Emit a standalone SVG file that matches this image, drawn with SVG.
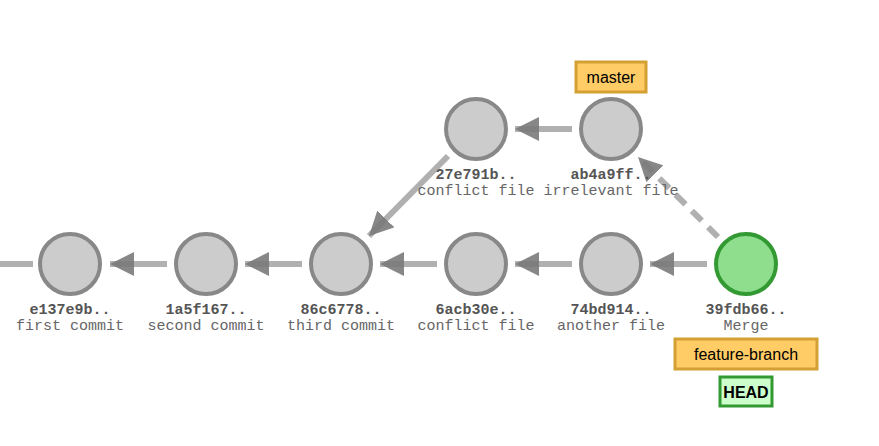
<svg xmlns="http://www.w3.org/2000/svg" width="879" height="446" viewBox="0 0 879 446">
<style>
.commit{fill:#cccccc;stroke:#888888;stroke-width:4}
.merge{fill:#8ede8e;stroke:#339933;stroke-width:4}
.link{stroke:#b0b0b0;stroke-width:6;fill:none}
.dash{stroke-dasharray:14,9}
.hash{font-family:"Liberation Mono","Courier New",monospace;font-size:15px;font-weight:bold;fill:#555555;text-anchor:middle}
.msg{font-family:"Liberation Mono","Courier New",monospace;font-size:15px;fill:#666666;text-anchor:middle}
.branch{fill:#ffcc66;stroke:#d4a033;stroke-width:3}
.head{fill:#ccffcc;stroke:#339933;stroke-width:3}
.lbl{font-family:"Liberation Sans",Arial,sans-serif;font-size:16px;fill:#000000;text-anchor:middle}
</style>
<defs>
<marker id="arrow" markerWidth="4" markerHeight="4" refX="4" refY="2" orient="auto" markerUnits="strokeWidth" viewBox="0 0 4 4">
<path d="M0,0 L4,2 L0,4 Z" fill="#7a7a7a" fill-opacity="0.9"/>
</marker>
</defs>
<g id="connectors">
<line class="link" x1="0" y1="264" x2="33" y2="264"/>
<line class="link" x1="167" y1="264" x2="110" y2="264" marker-end="url(#arrow)"/>
<line class="link" x1="302" y1="264" x2="245" y2="264" marker-end="url(#arrow)"/>
<line class="link" x1="437" y1="264" x2="380" y2="264" marker-end="url(#arrow)"/>
<line class="link" x1="572" y1="264" x2="515" y2="264" marker-end="url(#arrow)"/>
<line class="link" x1="707" y1="264" x2="650" y2="264" marker-end="url(#arrow)"/>
<line class="link" x1="572" y1="129" x2="515" y2="129" marker-end="url(#arrow)"/>
<line class="link" x1="448" y1="156" x2="369" y2="236" marker-end="url(#arrow)"/>
<line class="link dash" x1="718" y1="237" x2="638" y2="157" marker-end="url(#arrow)"/>
</g>
<g id="c-e137e9b">
<circle class="commit" cx="70" cy="264" r="30"/>
<text class="hash" x="70" y="314">e137e9b..</text>
<text class="msg" x="70" y="330">first commit</text>
</g>
<g id="c-1a5f167">
<circle class="commit" cx="206" cy="264" r="30"/>
<text class="hash" x="206" y="314">1a5f167..</text>
<text class="msg" x="206" y="330">second commit</text>
</g>
<g id="c-86c6778">
<circle class="commit" cx="341" cy="264" r="30"/>
<text class="hash" x="341" y="314">86c6778..</text>
<text class="msg" x="341" y="330">third commit</text>
</g>
<g id="c-6acb30e">
<circle class="commit" cx="476" cy="264" r="30"/>
<text class="hash" x="476" y="314">6acb30e..</text>
<text class="msg" x="476" y="330">conflict file</text>
</g>
<g id="c-74bd914">
<circle class="commit" cx="611" cy="264" r="30"/>
<text class="hash" x="611" y="314">74bd914..</text>
<text class="msg" x="611" y="330">another file</text>
</g>
<g id="c-39fdb66">
<circle class="merge" cx="746" cy="264" r="30"/>
<text class="hash" x="746" y="314">39fdb66..</text>
<text class="msg" x="746" y="330">Merge</text>
</g>
<g id="c-27e791b">
<circle class="commit" cx="476" cy="129" r="30"/>
<text class="hash" x="476" y="179">27e791b..</text>
<text class="msg" x="476" y="195">conflict file</text>
</g>
<g id="c-ab4a9ff">
<circle class="commit" cx="611" cy="129" r="30"/>
<text class="hash" x="611" y="179">ab4a9ff..</text>
<text class="msg" x="611" y="195">irrelevant file</text>
</g>
<g id="b-master">
<rect class="branch" x="576" y="62" width="70" height="30"/>
<text class="lbl" x="611" y="83">master</text>
</g>
<g id="b-feature-branch">
<rect class="branch" x="675" y="339" width="142" height="30"/>
<text class="lbl" x="746" y="360">feature-branch</text>
</g>
<g id="head">
<rect class="head" x="720" y="377" width="52" height="29"/>
<text class="lbl" x="746" y="398" font-weight="bold">HEAD</text>
</g>
</svg>
